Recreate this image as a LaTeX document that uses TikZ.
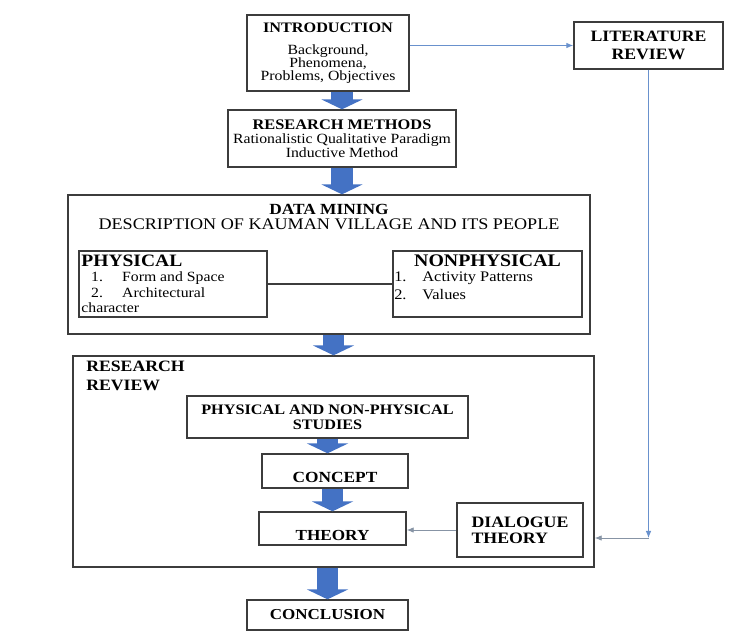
\documentclass[tikz,border=0pt]{standalone}
\usepackage{fontspec}
\setmainfont{Liberation Serif}[FakeStretch=1.12]
\usetikzlibrary{arrows.meta}

\definecolor{boxline}{RGB}{60,60,60}
\definecolor{arrowblue}{RGB}{68,114,196}
\definecolor{linkblue}{RGB}{105,145,205}
\definecolor{linkgrey}{RGB}{135,148,165}

\tikzset{
  box/.style={draw=boxline, line width=1pt, inner sep=2pt, align=center},
  boxsize/.style 2 args={minimum width=#1*0.025cm, minimum height=#2*0.025cm},
  hd/.style 2 args={font=\fontsize{#1}{#2}\selectfont\bfseries},
  fatarrow/.style={draw=arrowblue, line width=15pt, -{Triangle[width=29pt,length=7pt]}},
  link/.style={line width=0.7pt, -{Latex[length=5pt,width=4pt]}}
}

\begin{document}
\begin{tikzpicture}[x=0.025cm, y=-0.025cm]
\path[fill=white, use as bounding box] (0,0) rectangle (740,639);

\node[box, boxsize={162}{76}, font=\fontsize{10}{9.2}\selectfont] (intro) at (328,53)
  {{\fontsize{10.3}{9.2}\selectfont\bfseries INTRODUCTION}\\[6.4pt] Background,\\ Phenomena,\\ Problems, Objectives};
\node[box, boxsize={228}{57}, font=\fontsize{10}{10}\selectfont] (method) at (342,138.5)
  {{\fontsize{10.4}{10}\selectfont\bfseries RESEARCH METHODS}\\ Rationalistic Qualitative Paradigm\\ Inductive Method};
\node[box, boxsize={149}{47}, hd={11.25}{12.8}] (literature) at (648.5,45.5) {LITERATURE\\ REVIEW};

\node[box, boxsize={522}{139}] (mining) at (329,264.5) {};
\node[align=center, font=\fontsize{11.5}{10.4}\selectfont] (miningtitle) at (329,217)
  {{\fontsize{11}{10.4}\selectfont\bfseries DATA MINING}\\ DESCRIPTION OF KAUMAN VILLAGE AND ITS PEOPLE};
\node[box, boxsize={188}{66}] (physical) at (173,284) {};
\node[box, boxsize={189}{66}] (nonphysical) at (487.5,284) {};
\node[anchor=north west, inner xsep=2pt, inner ysep=3pt, align=left, font=\fontsize{10}{11}\selectfont] (physicaltext) at (physical.north west)
  {{\fontsize{12.4}{11}\selectfont\bfseries PHYSICAL}\\
   \hspace*{7pt}\makebox[22pt][l]{1.}Form and Space\\
   \hspace*{7pt}\makebox[22pt][l]{2.}Architectural\\
   character};
\node[anchor=north, inner ysep=3pt, hd={12.6}{12.8}] (nonphysicalhead) at (nonphysical.north) {NONPHYSICAL};
\node[anchor=north west, inner sep=0pt, align=left, font=\fontsize{10.4}{12.8}\selectfont] (nonphysicallist) at (394,272)
  {\makebox[20pt][l]{1.}Activity Patterns\\
   \makebox[20pt][l]{2.}Values};

\node[box, boxsize={521}{211}] (review) at (333.5,461.5) {};
\node[anchor=north west, inner sep=0pt, align=left, hd={11.25}{13.5}] (reviewlabel) at (86,361) {RESEARCH\\ REVIEW};
\node[box, boxsize={281}{42}, hd={10.3}{10.6}] (studies) at (327.5,417) {PHYSICAL AND NON-PHYSICAL\\ STUDIES};
\node[box, boxsize={146}{34}, hd={11}{11}, text height=16pt, text depth=0pt] (concept) at (335,471) {CONCEPT};
\node[box, boxsize={147}{33}, hd={10.9}{11}, text height=17.5pt, text depth=0pt] (theory) at (332.5,528.5) {THEORY};
\node[box, boxsize={126}{54}, hd={11.3}{11.5}, align=left] (dialogue) at (520,530) {DIALOGUE\\ THEORY};

\node[box, boxsize={161}{30}, hd={10.8}{11}] (conclusion) at (327.5,615) {CONCLUSION};

\foreach \from/\to in {method.north |- intro.south/method.north, method.south/method.south |- mining.north,
  review.north |- mining.south/review.north, studies.south/studies.south |- concept.north,
  theory.north |- concept.south/theory.north, conclusion.north |- review.south/conclusion.north}
  \draw[fatarrow] (\from) -- (\to);

\draw[boxline, line width=0.8pt] (physical.east) -- (nonphysical.west);
\draw[link, linkblue] (intro.east |- literature.west) -- (literature.west);
\draw[link, linkgrey] (dialogue.west) -- (dialogue.west -| theory.east);
\coordinate (litcorner) at (literature.south |- 0,538);
\draw[link, linkblue] (literature.south) -- (litcorner);
\draw[link, linkgrey] (litcorner) -- (litcorner -| review.east);
\end{tikzpicture}
\end{document}
